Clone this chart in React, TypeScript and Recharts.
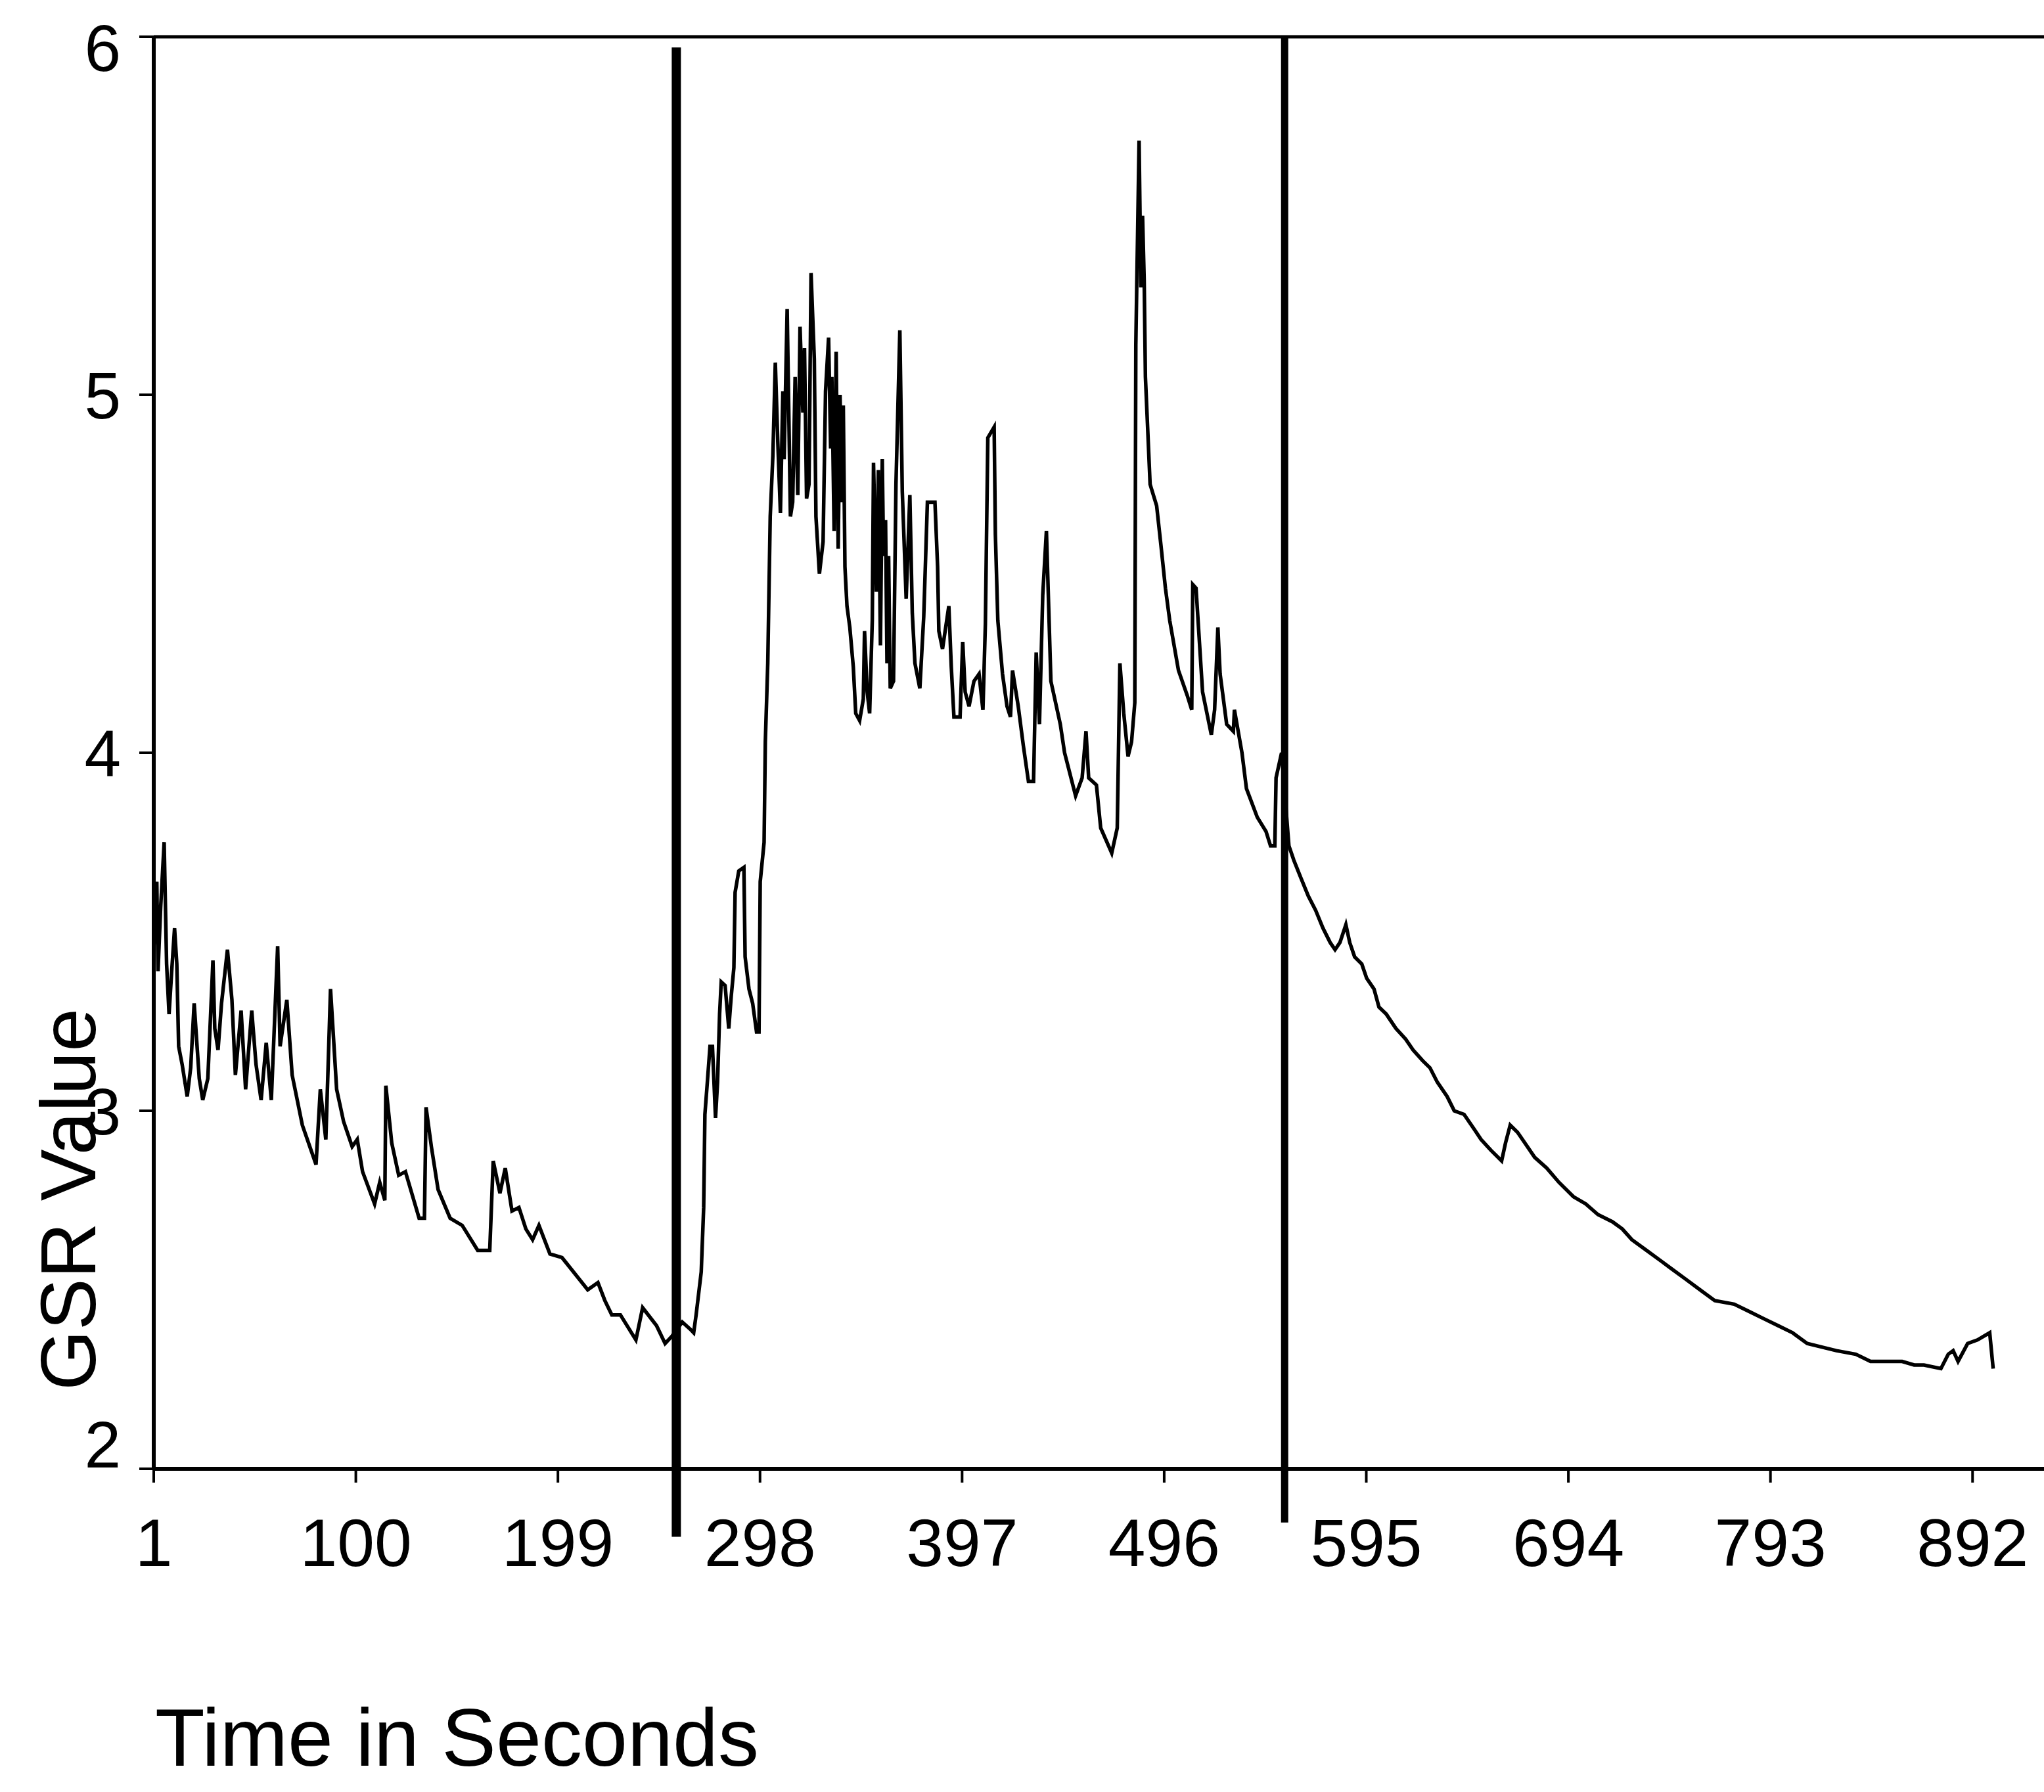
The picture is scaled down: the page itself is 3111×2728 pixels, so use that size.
import { LineChart, Line, XAxis, YAxis, ReferenceLine } from "recharts";

// GSR trace, (time in s, GSR value)
const timeSec = [
  1, 2.5, 3.1, 4.4, 6.1, 7.3, 8.5, 9.8, 11.2, 12.3, 13.2, 14.9, 17.4, 19.1, 20.8, 23.3, 25, 27.5, 30, 30.9,
  32.5, 34.2, 37.1, 39.3, 41, 43.8, 46, 49, 51.1, 53.6, 56.1, 58.6, 61.7, 62.9, 66.2, 68.8, 73.8, 80.5, 82.6, 85.3,
  87.6, 90.6, 94, 98.2, 100.7, 103.3, 109.2, 111.7, 114.2, 114.7, 117.6, 121, 124.3, 131, 133.6, 134.4, 137, 140.3, 146.2, 152.1,
  159.7, 165.6, 167.3, 170.6, 173.2, 176.5, 179.9, 183.3, 186.6, 189.7, 195.1, 201, 205.2, 213.6, 218.6, 222, 225.4, 229.6, 237.2, 240.5,
  247.3, 251.5, 254.8, 259.9, 263.8, 265.5, 266.7, 269.2, 270.4, 271, 272.2, 273.5, 274.7, 276.2, 277.2, 278.2, 279, 280.9, 282.7, 283.9,
  285.2, 285.8, 287.6, 290.1, 290.7, 292.6, 294.4, 296.3, 297.5, 298.1, 300, 300.6, 301.8, 303, 304.3, 305.5, 306.7, 308, 309.2, 309.8,
  311.3, 312.9, 314, 315.2, 316.5, 317.6, 319, 319.8, 320.8, 322, 323, 324.6, 325.4, 327.1, 328.9, 330.1, 331.6, 332.6, 333.2, 334.3,
  335.3, 336.3, 337.2, 338.2, 338.8, 339.6, 340.6, 342, 343.7, 344.9, 346.8, 348.6, 349.2, 350.5, 351.7, 353, 353.6, 355, 356, 357,
  357.9, 358.5, 359.5, 360.2, 361, 361.8, 363.4, 364.6, 366.5, 367.7, 369.6, 371.4, 372.6, 373.9, 376.3, 378.2, 380, 383.7, 385, 385.6,
  387.4, 390.5, 391.7, 393, 396, 397.3, 398.5, 400.4, 402.8, 405.3, 407.2, 408.4, 409.6, 412.7, 413.3, 414.5, 416.8, 419, 420.7, 421.7,
  424.5, 427, 429.5, 432, 433.3, 434.9, 436.5, 438.3, 440.5, 445.1, 447.2, 452.6, 455.8, 457.7, 459, 462.8, 464.9, 470.3, 473, 474.3,
  476.2, 478.3, 480, 481.6, 482.1, 483.7, 484.6, 485.4, 486.2, 486.8, 489.1, 492.3, 494.4, 496.6, 498.7, 503, 507.3, 509.5, 510, 511.6,
  514.8, 519.1, 520.7, 522.3, 523.4, 526.6, 529.9, 530.4, 534.1, 536.3, 541.6, 545.9, 548.1, 550.2, 550.8, 553.5, 554.5,
  557.1, 559.5, 563, 566.6, 570.2, 573.8, 577.3, 579.7, 582.1, 585, 586.9, 589.3, 592.8, 595.2, 598.8, 601.2, 604.8, 609.5, 614.3, 617.9,
  622.6, 626.2, 629.8, 634.6, 638.1, 642.9, 647.7, 651.2, 656, 661.3, 663.2, 665.5, 669.1, 672.7, 677.5, 683.4, 689.4, 696.5, 702.5, 708.5,
  715.6, 720.4, 725.1, 732.3, 739.5, 744.2, 751.4, 758.5, 765.7, 775.2, 782.4, 789.5, 796.7, 803.8, 811, 818.1, 825.3, 834.8, 842, 857.5,
  863.4, 868.2, 876.5, 880.1, 882.5, 884.9, 889.6, 894.4, 900.4, 902.1,
];

const gsrValue = [
  3.45, 3.64, 3.39, 3.57, 3.75, 3.41, 3.27, 3.39, 3.51, 3.41, 3.18, 3.13, 3.04, 3.12, 3.3, 3.09, 3.03, 3.09, 3.42, 3.23,
  3.17, 3.3, 3.45, 3.31, 3.1, 3.28, 3.06, 3.28, 3.13, 3.03, 3.19, 3.03, 3.46, 3.18, 3.31, 3.1, 2.96, 2.85, 3.06, 2.92,
  3.34, 3.06, 2.97, 2.9, 2.92, 2.83, 2.74, 2.8, 2.75, 3.07, 2.91, 2.82, 2.83, 2.7, 2.7, 3.01, 2.9, 2.78, 2.7, 2.68,
  2.61, 2.61, 2.86, 2.77, 2.84, 2.72, 2.73, 2.67, 2.64, 2.68, 2.6, 2.59, 2.56, 2.5, 2.52, 2.47, 2.43, 2.43, 2.36, 2.45,
  2.4, 2.35, 2.37, 2.41, 2.39, 2.38, 2.43, 2.55, 2.73, 2.99, 3.08, 3.18, 3.18, 2.98, 3.08, 3.27, 3.36, 3.35, 3.23, 3.32,
  3.4, 3.61, 3.67, 3.68, 3.43, 3.34, 3.3, 3.22, 3.22, 3.64, 3.75, 4.03, 4.25, 4.66, 4.83, 5.09, 4.87, 4.67, 5.01, 4.82,
  5.24, 4.66, 4.7, 5.05, 4.72, 5.19, 4.95, 5.13, 4.71, 4.75, 5.34, 5.1, 4.66, 4.5, 4.59, 5.01, 5.16, 4.85, 5.05, 4.62,
  5.12, 4.57, 5.0, 4.7, 4.97, 4.52, 4.41, 4.35, 4.24, 4.11, 4.09, 4.15, 4.34, 4.17, 4.11, 4.37, 4.81, 4.45, 4.79, 4.3,
  4.82, 4.55, 4.65, 4.25, 4.55, 4.18, 4.2, 4.75, 5.18, 4.73, 4.43, 4.72, 4.39, 4.25, 4.18, 4.38, 4.7, 4.7, 4.52, 4.34,
  4.29, 4.41, 4.24, 4.1, 4.1, 4.31, 4.17, 4.13, 4.2, 4.22, 4.12, 4.36, 4.88, 4.91, 4.61, 4.37, 4.22, 4.13, 4.1, 4.23,
  4.13, 4.02, 3.92, 3.92, 4.28, 4.08, 4.44, 4.62, 4.2, 4.08, 4.0, 3.88, 3.93, 4.06, 3.93, 3.91, 3.79, 3.72, 3.79, 4.25,
  4.11, 3.99, 4.03, 4.14, 5.14, 5.71, 5.3, 5.5, 5.32, 5.05, 4.75, 4.69, 4.58, 4.46, 4.37, 4.23, 4.16, 4.12, 4.47, 4.46,
  4.17, 4.05, 4.12, 4.35, 4.22, 4.08, 4.06, 4.12, 4.0, 3.9, 3.82, 3.78, 3.74, 3.74, 3.93, 4.0, 3.93,
  3.74, 3.7, 3.65, 3.6, 3.56, 3.51, 3.47, 3.45, 3.47, 3.52, 3.47, 3.43, 3.41, 3.37, 3.34, 3.29, 3.27, 3.23, 3.2, 3.17,
  3.14, 3.12, 3.08, 3.04, 3.0, 2.99, 2.95, 2.92, 2.89, 2.86, 2.91, 2.96, 2.94, 2.91, 2.87, 2.84, 2.8, 2.76, 2.74, 2.71,
  2.69, 2.67, 2.64, 2.61, 2.58, 2.56, 2.53, 2.5, 2.47, 2.46, 2.44, 2.42, 2.4, 2.38, 2.35, 2.34, 2.33, 2.32, 2.3, 2.3,
  2.29, 2.29, 2.28, 2.32, 2.33, 2.3, 2.35, 2.36, 2.38, 2.28,
];

const xTicks = [1, 100, 199, 298, 397, 496, 595, 694, 793, 892];
const yTicks = [2, 3, 4, 5, 6];

// event markers (thick vertical strokes)
const markerTimes = [257, 555];
const markerTops = [5.97, 6.0];
const markerBottoms = [1.81, 1.85];

const data = timeSec.map((t, i) => ({ t, v: gsrValue[i] }));

const FONT = "'Liberation Sans', Arial, sans-serif";
const W = 3111;
const H = 2728;

// the end labels sit a little inside the plot in the original
function YTick(props: any) {
  const { x, y, payload } = props;
  const shift = payload.value === 2 ? -38 : payload.value === 6 ? 16 : 0;
  return (
    <text x={x} y={y + shift} dy="0.355em" textAnchor="end" fontSize={100} fontFamily={FONT} fill="#000">
      {payload.value}
    </text>
  );
}

export default function App() {
  const markerWidths = [14, 11];
  return (
    <div style={{ position: "absolute", left: 0, top: 0, width: W, height: H, background: "#fff", fontFamily: FONT }}>
      <LineChart width={W} height={H} data={data} margin={{ top: 56, right: 0, bottom: 292, left: 0 }}>
        <XAxis
          dataKey="t"
          type="number"
          domain={[1, 927]}
          ticks={xTicks}
          interval={0}
          allowDataOverflow
          height={200}
          tickSize={21}
          tickMargin={55}
          axisLine={{ stroke: "#000", strokeWidth: 6 }}
          tickLine={{ stroke: "#000", strokeWidth: 4 }}
          tick={{ fill: "#000", fontSize: 102, fontFamily: FONT }}
        />
        <YAxis
          type="number"
          domain={[2, 6]}
          ticks={yTicks}
          interval={0}
          allowDataOverflow
          width={234}
          tickSize={22}
          tickMargin={28}
          axisLine={{ stroke: "#000", strokeWidth: 6 }}
          tickLine={{ stroke: "#000", strokeWidth: 4 }}
          tick={<YTick />}
        />
        <ReferenceLine y={6} stroke="#000" strokeWidth={5} />
        <Line
          type="linear"
          dataKey="v"
          stroke="#000"
          strokeWidth={5.5}
          dot={false}
          activeDot={false}
          isAnimationActive={false}
        />
        {markerTimes.map((m, i) => (
          <ReferenceLine
            key={m}
            segment={[
              { x: m, y: markerTops[i] },
              { x: m, y: markerBottoms[i] },
            ]}
            stroke="#000"
            strokeWidth={markerWidths[i]}
            ifOverflow="visible"
          />
        ))}
      </LineChart>
      <svg width={W} height={H} style={{ position: "absolute", left: 0, top: 0, pointerEvents: "none" }}>
        <text x={236} y={2688} fontSize={124} fontFamily={FONT} fill="#000">
          Time in Seconds
        </text>
        <text
          x={145}
          y={1826}
          fontSize={118}
          fontFamily={FONT}
          fill="#000"
          textAnchor="middle"
          transform="rotate(-90, 145, 1826)"
        >
          GSR Value
        </text>
      </svg>
    </div>
  );
}
